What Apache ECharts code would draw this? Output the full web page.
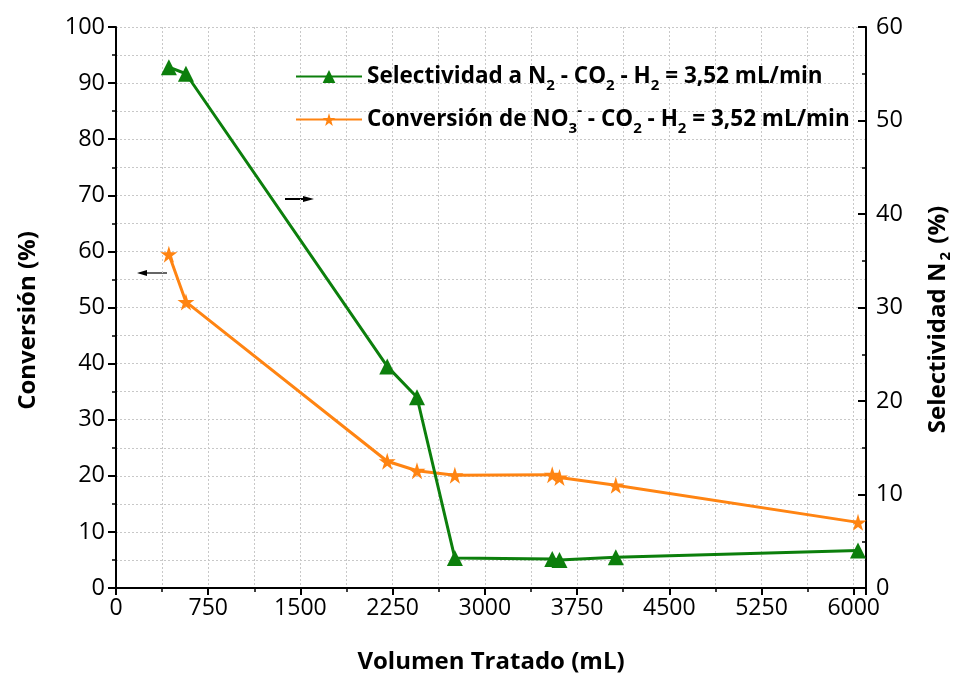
<!DOCTYPE html>
<html>
<head>
<meta charset="utf-8">
<script src="https://cdn.jsdelivr.net/npm/echarts@6/dist/echarts.min.js"></script>
<style>html,body{margin:0;padding:0;background:#fff}#c{width:961px;height:679px}</style>
</head>
<body>
<div id="c"></div>
<script>
const volumen = [430, 569, 2206, 2448, 2756, 3548, 3607, 4065, 6035];
const selectividad = [55.7, 55.0, 23.7, 20.4, 3.2, 3.1, 3.0, 3.3, 4.0];
const conversion = [59.5, 51.0, 22.6, 20.9, 20.1, 20.2, 19.7, 18.3, 11.7];
const nameSel = 'Selectividad a N2 - CO2 - H2 = 3,52 mL/min';
const nameConv = 'Conversión de NO3- - CO2 - H2 = 3,52 mL/min';
const legendRich = {
  'Selectividad a N2 - CO2 - H2 = 3,52 mL/min': 'Selectividad a N{s|2} - CO{s|2} - H{s|2} = 3,52 mL/min',
  'Conversión de NO3- - CO2 - H2 = 3,52 mL/min': 'Conversión de NO{s|3}{p|-} - CO{s|2} - H{s|2} = 3,52 mL/min'
};
const FONT = 'Open Sans';
const GREEN = '#0c7f0c';
const ORANGE = '#ff8412';

const chart = echarts.init(document.getElementById('c'), null, {renderer: 'canvas'});
const gridStyle = {show: true, lineStyle: {color: '#c8c8c8', type: [2, 2], width: 1}};
chart.setOption({
  animation: false,
  backgroundColor: '#fff',
  grid: {left: 116, right: 89, top: 27, bottom: 89, containLabel: false},
  legend: {
    orient: 'vertical', left: 290, top: 60, itemGap: 10,
    itemWidth: 66, itemHeight: 16,
    data: [nameSel, nameConv],
    formatter: n => legendRich[n],
    textStyle: {
      fontFamily: FONT, fontWeight: 'bold', fontSize: 22.5, color: '#000',
      rich: {
        s: {fontFamily: FONT, fontWeight: 'bold', fontSize: 15, padding: [19, 0, 0, 0], color: '#000'},
        p: {fontFamily: FONT, fontWeight: 'bold', fontSize: 15, padding: [0, 0, 17, 0], color: '#000'}
      }
    }
  },
  xAxis: {
    type: 'value', min: 0, max: 6100, interval: 750,
    name: 'Volumen Tratado (mL)', nameLocation: 'middle', nameGap: 62,
    nameTextStyle: {fontFamily: FONT, fontWeight: 'bold', fontSize: 24, color: '#000'},
    axisLine: {show: true, onZero: false, lineStyle: {color: '#000', width: 2}},
    axisTick: {show: true, inside: false, length: 7, lineStyle: {color: '#000', width: 2}},
    minorTick: {show: true, splitNumber: 2, length: 4, lineStyle: {color: '#000', width: 1.5}},
    axisLabel: {fontFamily: FONT, fontSize: 23, color: '#000', margin: 9, showMaxLabel: false,
      formatter: v => String(v)},
    splitLine: gridStyle,
    minorSplitLine: gridStyle
  },
  yAxis: [{
    type: 'value', min: 0, max: 100, interval: 10, position: 'left',
    name: 'Conversión (%)', nameLocation: 'middle', nameGap: 76,
    nameTextStyle: {fontFamily: FONT, fontWeight: 'bold', fontSize: 24, color: '#000', padding: [0, 26, 0, 0]},
    axisLine: {show: true, lineStyle: {color: '#000', width: 2}},
    axisTick: {show: true, inside: false, length: 8, lineStyle: {color: '#000', width: 2}},
    minorTick: {show: true, splitNumber: 2, length: 4, lineStyle: {color: '#000', width: 1.5}},
    axisLabel: {fontFamily: FONT, fontSize: 23.5, color: '#000', margin: 11},
    splitLine: gridStyle,
    minorSplitLine: gridStyle
  }, {
    type: 'value', min: 0, max: 60, interval: 10, position: 'right',
    name: 'Selectividad N{s|2} (%)', nameLocation: 'middle', nameGap: 58,
    nameTextStyle: {fontFamily: FONT, fontWeight: 'bold', fontSize: 24, color: '#000', padding: [0, 24, 0, 0],
      rich: {s: {fontFamily: FONT, fontWeight: 'bold', fontSize: 15, padding: [14, 2, 0, 2], color: '#000'}}},
    axisLine: {show: true, lineStyle: {color: '#000', width: 2}},
    axisTick: {show: true, inside: true, length: 8, lineStyle: {color: '#000', width: 2}},
    minorTick: {show: true, splitNumber: 2, length: 4, lineStyle: {color: '#000', width: 1.5}},
    axisLabel: {fontFamily: FONT, fontSize: 23.5, color: '#000', margin: 10},
    splitLine: {show: false}
  }],
  series: [{
    name: nameSel, type: 'line', yAxisIndex: 1,
    data: volumen.map((v, i) => [v, selectividad[i]]),
    symbol: 'triangle', symbolSize: 16, showAllSymbol: true,
    lineStyle: {color: GREEN, width: 3}, itemStyle: {color: GREEN}, z: 3
  }, {
    name: nameConv, type: 'line', yAxisIndex: 0,
    data: volumen.map((v, i) => [v, conversion[i]]),
    symbol: 'path://M50,0 L61,35 L98,35 L68,57 L79,91 L50,70 L21,91 L32,57 L2,35 L39,35 Z',
    symbolSize: 17, showAllSymbol: true,
    lineStyle: {color: ORANGE, width: 3}, itemStyle: {color: ORANGE}, z: 2
  }],
  graphic: [
    {type: 'line', shape: {x1: 145, y1: 273, x2: 167, y2: 273}, style: {stroke: '#666', lineWidth: 2}},
    {type: 'polygon', shape: {points: [[137, 273], [147, 270], [147, 276]]}, style: {fill: '#000'}},
    {type: 'line', shape: {x1: 285, y1: 199, x2: 305, y2: 199}, style: {stroke: '#000', lineWidth: 2}},
    {type: 'polygon', shape: {points: [[314, 199], [303, 196], [303, 202]]}, style: {fill: '#000'}}
  ]
});
</script>
</body>
</html>
